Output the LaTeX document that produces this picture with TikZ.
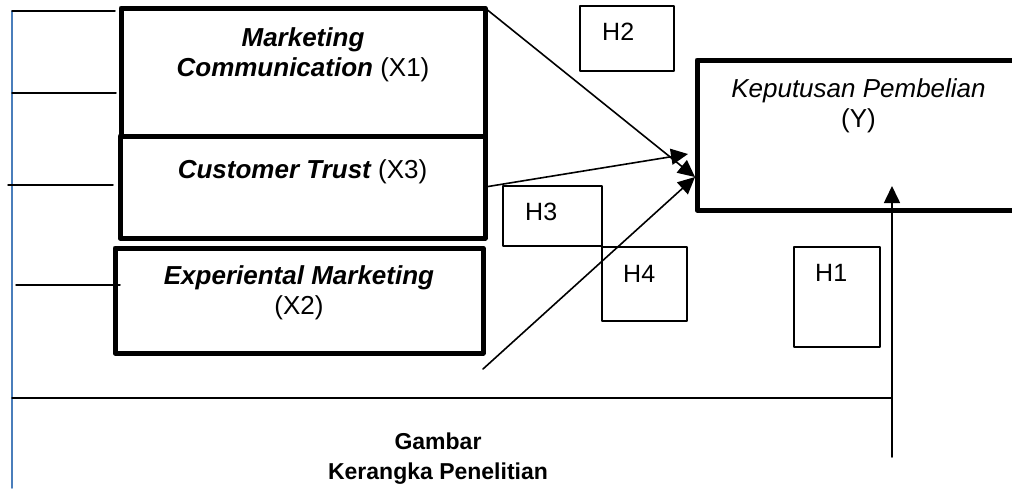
\documentclass[tikz,border=0pt]{standalone}
\usepackage{fontspec}
\setmainfont{Liberation Sans}
\usetikzlibrary{arrows.meta,positioning}
\definecolor{frameblue}{RGB}{74,126,187}
\tikzset{
  varbox/.style={draw,line width=5pt,outer sep=0pt,inner sep=0pt,anchor=north west},
  hipbox/.style={draw,line width=1.6pt,outer sep=0pt,inner sep=0pt,anchor=north west},
  vartext/.style={inner sep=0pt,align=center,font=\fontsize{26}{30}\selectfont},
  hiptext/.style={inner sep=0pt,anchor=north west,font=\fontsize{25}{30}\selectfont},
  captext/.style={inner sep=0pt,align=center,font=\fontsize{23}{30}\selectfont\bfseries},
  stub/.style={line width=1.5pt},
  arr/.style={line width=1.6pt,-{Triangle[length=17pt,width=16pt]}}
}
\begin{document}
\begin{tikzpicture}[x=1pt,y=-1pt,line join=round,line cap=round]
	\useasboundingbox (0,0) rectangle (1012,488);
	% variables
	\node[varbox,minimum width=364pt,minimum height=128pt] (x1) at (121,8) {};
	\node[varbox,minimum width=365pt,minimum height=102pt] (x3) at (120,136) {};
	\node[varbox,minimum width=368pt,minimum height=105pt] (x2) at (115,248) {};
	\node[varbox,minimum width=323pt,minimum height=150pt] (y) at (697,60) {};
	\node[vartext,below=19pt of x1.north] (x1txt) {\bfseries\itshape Marketing\\{\bfseries\itshape Communication} (X1)};
	\node[vartext,below=23pt of x3.north] (x3txt) {{\bfseries\itshape Customer Trust} (X3)};
	\node[vartext,below=17pt of x2.north] (x2txt) {\bfseries\itshape Experiental Marketing\\(X2)};
	\node[vartext,below=18pt of y.north] (ytxt) {\itshape Keputusan Pembelian\\(Y)};
	% hypotheses
	\node[hipbox,minimum width=94pt,minimum height=65pt] (h2) at (580,6) {};
	\node[hipbox,minimum width=99pt,minimum height=60pt] (h3) at (503,186) {};
	\node[hipbox,minimum width=85pt,minimum height=74pt] (h4) at (602,247) {};
	\node[hipbox,minimum width=86pt,minimum height=100pt] (h1) at (794,247) {};
	\node[hiptext] (h2txt) at ([xshift=22pt,yshift=-17pt]h2.north west) {H2};
	\node[hiptext] (h3txt) at ([xshift=22pt,yshift=-17pt]h3.north west) {H3};
	\node[hiptext] (h4txt) at ([xshift=21pt,yshift=-18pt]h4.north west) {H4};
	\node[hiptext] (h1txt) at ([xshift=21pt,yshift=-17pt]h1.north west) {H1};
	% arrows
	\coordinate (tipA) at (688,154);
	\coordinate (tipB) at (695,177);
	\coordinate (diagfoot) at (483,369);
	\coordinate (hOneFoot) at (892,457);
	\coordinate (hOneTip) at (892,186);
	\draw[arr] (x1.north east) -- (tipB);
	\draw[arr] (x3.east) -- (tipA);
	\draw[arr] (diagfoot) -- (tipB);
	\draw[arr] (hOneFoot) -- (hOneTip);
	% frame
	\draw[frameblue,line width=1.5pt] (12,11) -- (12,488);
	\draw[stub] (12,11) -- (115,11) (12,93) -- (116,93) (8,185) -- (113,185) (16,285) -- (120,285);
	\draw[stub] (12,398) -- (hOneFoot |- 0,398);
	\node[captext,anchor=north] (cap) at (438,433) {Gambar\\Kerangka Penelitian};
\end{tikzpicture}
\end{document}
